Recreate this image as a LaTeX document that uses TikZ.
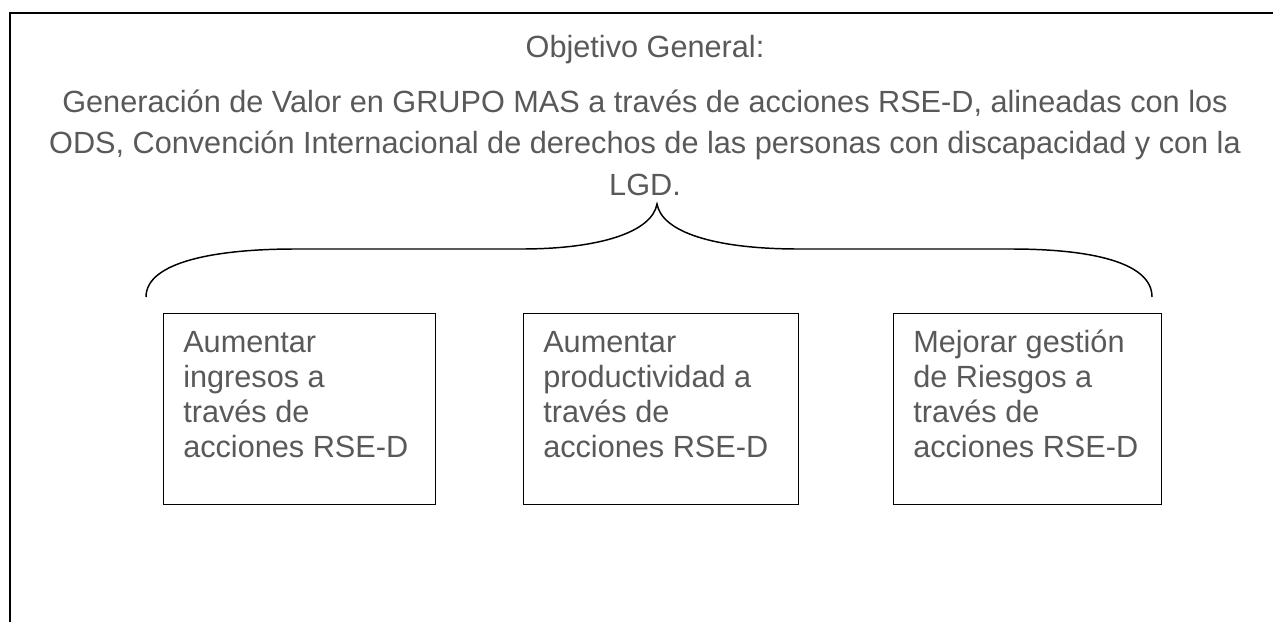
\documentclass[tikz,border=0pt]{standalone}
\usepackage{fontspec}
\setmainfont{Liberation Sans}
\definecolor{txt}{HTML}{595959}
\begin{document}
\begin{tikzpicture}[x=0.75pt,y=-0.75pt,
  frameline/.style={line width=1.6pt, draw=black},
  boxline/.style={draw=black, line width=1.1pt, minimum width=#1, minimum height=143.25pt, inner sep=0pt, anchor=north west},
  braceline/.style={draw=black, line width=1.1pt},
  lbl/.style={font=\fontsize{23}{26.25}\selectfont, text=txt, inner sep=0pt},
]
\useasboundingbox (0,0) rectangle (1273,622);
\coordinate (ftl) at (10,13);
\coordinate (ftr) at (1273,13);
\coordinate (fbl) at (10,622);
\draw[frameline] (ftr) -- (ftl) -- (fbl);

\node[lbl, anchor=base] (title) at (645,57) {Objetivo General:};
\node[lbl, anchor=base, align=center, font=\fontsize{23}{31}\selectfont] (goal) at (645,195)
  {Generación de Valor en GRUPO MAS a través de acciones RSE-D, alineadas con los\\
   ODS, Convención Internacional de derechos de las personas con discapacidad y con la\\
   LGD.};

\coordinate (tip) at (657,204);
\coordinate (bl) at (146,297);
\coordinate (br) at (1152,297);
\draw[braceline] (bl) .. controls (146,262) and (215,249) .. (295,249) -- (521,249)
  .. controls (600,249) and (652,232) .. (tip)
  .. controls (662,232) and (714,249) .. (799,249) -- (1011,249)
  .. controls (1090,249) and (1152,262) .. (br);

\node[boxline=204pt] (b1) at (163,313) {};
\node[boxline=206.25pt] (b2) at (523,313) {};
\node[boxline=201pt] (b3) at (893,313) {};

\node[lbl, anchor=base west, align=left] (t1) at ([shift={(20,144)}]b1.north west)
  {Aumentar\\ingresos a\\través de\\acciones RSE-D};
\node[lbl, anchor=base west, align=left] (t2) at ([shift={(20,144)}]b2.north west)
  {Aumentar\\productividad a\\través de\\acciones RSE-D};
\node[lbl, anchor=base west, align=left] (t3) at ([shift={(20,144)}]b3.north west)
  {Mejorar gestión\\de Riesgos a\\través de\\acciones RSE-D};
\end{tikzpicture}
\end{document}
